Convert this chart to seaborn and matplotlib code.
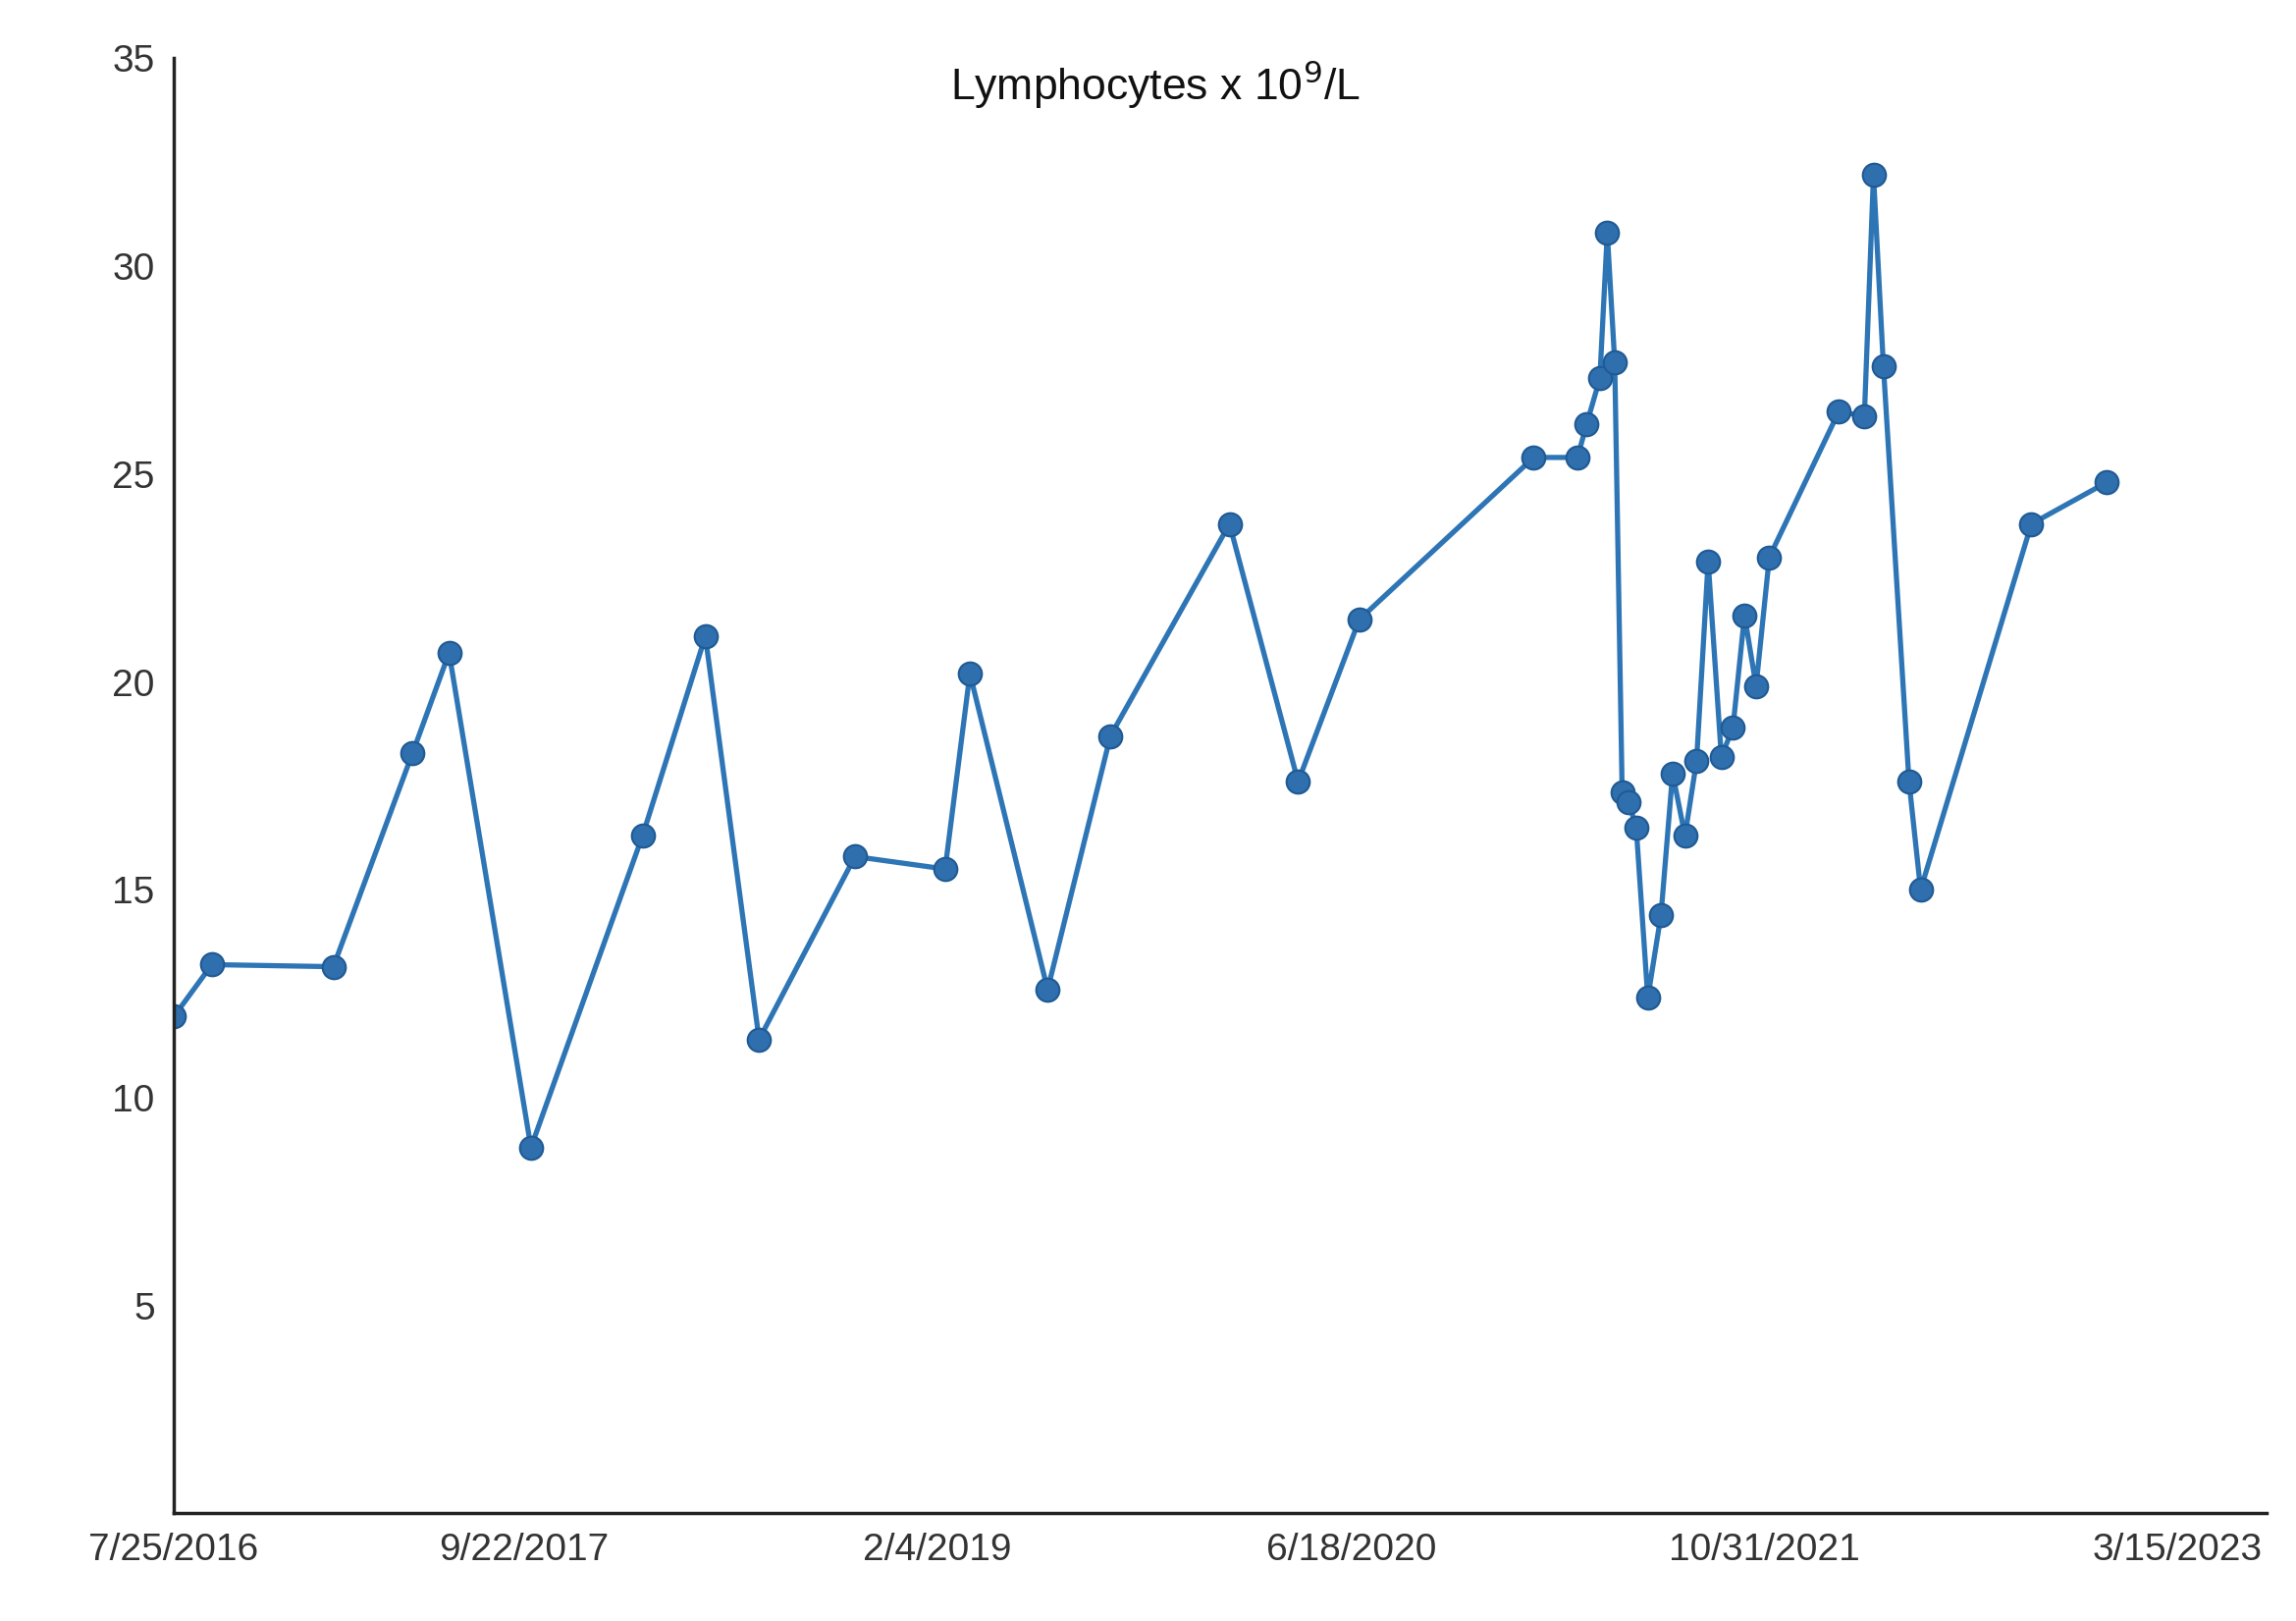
import matplotlib
matplotlib.use("Agg")
import matplotlib.pyplot as plt
import seaborn as sns
import pandas as pd

dates = ["2016-07-25","2016-09-09","2017-02-03","2017-05-10","2017-06-23","2017-09-30",
         "2018-02-12","2018-04-29","2018-07-03","2018-10-27","2019-02-13","2019-03-15",
         "2019-06-17","2019-09-01","2020-01-23","2020-04-15","2020-06-28","2021-01-25",
         "2021-03-19","2021-03-30","2021-04-15","2021-04-24","2021-05-03","2021-05-12",
         "2021-05-20","2021-05-29","2021-06-12","2021-06-28","2021-07-12","2021-07-27",
         "2021-08-10","2021-08-24","2021-09-09","2021-09-23","2021-10-07","2021-10-21",
         "2021-11-06","2022-01-29","2022-03-01","2022-03-12","2022-03-24","2022-04-24",
         "2022-05-08","2022-09-19","2022-12-19"]
values = [11.95,13.2,13.15,18.3,20.7,8.8,16.3,21.1,11.4,15.8,15.5,20.2,12.6,18.7,23.8,
          17.6,21.5,25.4,25.4,26.2,27.3,30.8,27.7,17.35,17.1,16.5,12.4,14.4,17.8,16.3,
          18.1,22.9,18.2,18.9,21.6,19.9,23.0,26.5,26.4,32.2,27.6,17.6,15.0,23.8,24.8]
tick_dates = ["2016-07-25","2017-09-22","2019-02-04","2020-06-18","2021-10-31","2023-03-15"]
tick_labels = ["7/25/2016","9/22/2017","2/4/2019","6/18/2020","10/31/2021","3/15/2023"]
y_ticks = [5,10,15,20,25,30,35]

df = pd.DataFrame({"date": pd.to_datetime(dates), "value": values})

sns.set_style("white")
plt.rcParams['font.family'] = ['Liberation Sans', 'DejaVu Sans']
fig = plt.figure(figsize=(23.39,16.51), dpi=100)
ax = fig.add_axes([0.0757,0.0664,0.9113,0.8976])
sns.lineplot(data=df, x="date", y="value", ax=ax, color="#2e75b6", linewidth=3.8,
             marker="o", markersize=17, markerfacecolor="#2f6fad",
             markeredgecolor="#1f5a94", markeredgewidth=1.5)
ax.set_xlim(pd.Timestamp("2016-07-25"), pd.Timestamp("2023-06-30"))
ax.set_ylim(0,35)
ax.set_yticks(y_ticks)
ax.set_yticklabels([str(v) for v in y_ticks], fontsize=28, color="#333333")
ax.set_xticks(pd.to_datetime(tick_dates))
ax.set_xticklabels(tick_labels, fontsize=28, color="#333333")
ax.tick_params(axis="both", length=0, pad=14)
ax.set_xlabel(""); ax.set_ylabel("")
for s in ["top","right"]:
    ax.spines[s].set_visible(False)
for s in ["left","bottom"]:
    ax.spines[s].set_color("#222222"); ax.spines[s].set_linewidth(2.5)
ax.text(0.469, 1.0, "Lymphocytes x 10$^9$/L", transform=ax.transAxes, ha="center",
        va="top", fontsize=32, color="#111111")
fig.savefig("out.png", dpi=100)
